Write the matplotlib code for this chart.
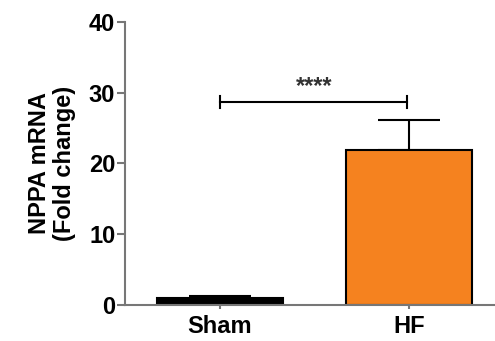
import matplotlib.pyplot as plt

plt.rcParams['font.family'] = ['Liberation Sans', 'DejaVu Sans']
plt.rcParams['font.weight'] = 'bold'

groups = ['Sham', 'HF']
means = [1.0, 21.9]
sems = [0.2, 4.2]
colors = ['black', '#F5821F']
sig_y = 28.7
sig_text = '****'

fig = plt.figure(figsize=(4.95, 3.41), dpi=100)
ax = fig.add_axes([0.2525, 0.1056, 0.7475, 0.83])

x = [0, 1]
ax.bar(x, means, width=0.67, color=colors, edgecolor='black', linewidth=1.5, zorder=2)
ax.errorbar(x, means, yerr=[[0, 0], sems], fmt='none', ecolor='black',
            elinewidth=1.5, capsize=22, capthick=1.5, zorder=1)

# significance bracket
ax.plot([0, 0.99], [sig_y, sig_y], color='black', lw=1.5)
ax.plot([0, 0], [sig_y - 0.8, sig_y + 0.8], color='black', lw=1.5)
ax.plot([0.99, 0.99], [sig_y - 0.8, sig_y + 0.8], color='black', lw=1.5)
ax.text(0.5, sig_y + 0.6, sig_text, ha='center', va='bottom', fontsize=17,
        color='#333333')

ax.set_xlim(-0.503, 1.455)
ax.set_ylim(0, 40)
ax.set_yticks([0, 10, 20, 30, 40])
ax.set_xticks(x)
ax.set_xticklabels(groups)
ax.set_ylabel('NPPA mRNA\n(Fold change)', fontsize=17, fontweight='bold', labelpad=9,
              linespacing=1.15)

for s in ['top', 'right']:
    ax.spines[s].set_visible(False)
for s in ['left', 'bottom']:
    ax.spines[s].set_color('#777777')
    ax.spines[s].set_linewidth(1.5)
ax.tick_params(axis='both', colors='#777777', labelcolor='black', width=1.5, length=6,
               labelsize=17, pad=1)
ax.tick_params(axis='x', length=3, pad=4)

fig.savefig('out.png', dpi=100)
